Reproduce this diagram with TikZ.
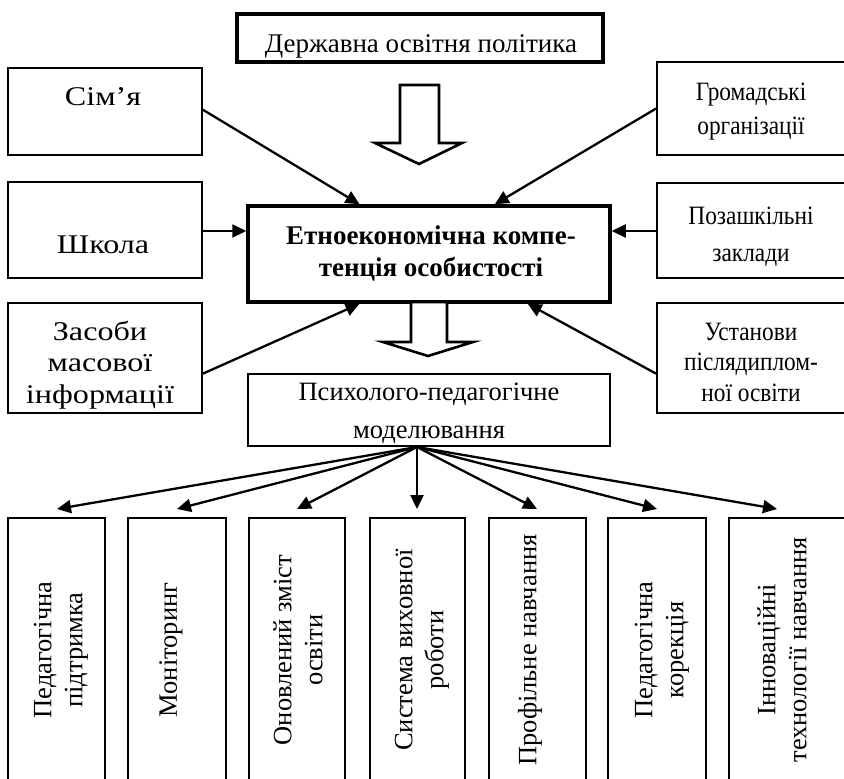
\documentclass[tikz,border=0pt]{standalone}
\usepackage{fontspec}
\setmainfont{Liberation Serif}
\newfontfamily\Lfont[FakeStretch=1.19]{Liberation Serif}
\newfontfamily\Rfont[FakeStretch=0.88]{Liberation Serif}
\usetikzlibrary{arrows.meta,calc}
\begin{document}
\begin{tikzpicture}[x=1pt,y=-1pt,
  box/.style={draw, line width=1.8pt, inner sep=0pt},
  thickbox/.style={draw, line width=3.5pt, inner sep=0pt},
  lbl/.style={align=center, inner sep=0pt, anchor=base},
  rlbl/.style={font=\fontsize{26.5}{31}\selectfont, align=center, inner sep=0pt, rotate=90},
  conn/.style={line width=2.3pt, -{Triangle[length=14pt,width=13pt]}},
  hollow/.style={line width=2.6pt, fill=white, line join=miter}]
\useasboundingbox (0,0) rectangle (844,779);
\clip (0,0) rectangle (844,779);

% boxes
\node[thickbox, minimum width=366pt, minimum height=48pt] (top) at (420,38) {};
\node[box, minimum width=194pt, minimum height=87pt] (sim) at (105,111.5) {};
\node[box, minimum width=193pt, minimum height=93pt] (grom) at (753.5,108.5) {};
\node[box, minimum width=194pt, minimum height=96pt] (shk) at (105,230) {};
\node[thickbox, minimum width=362pt, minimum height=96pt] (cen) at (429,254) {};
\node[box, minimum width=193pt, minimum height=95pt] (poz) at (753.5,230.5) {};
\node[box, minimum width=194pt, minimum height=110pt] (zas) at (105,358) {};
\node[box, minimum width=193pt, minimum height=110pt] (ust) at (753.5,358) {};
\node[box, minimum width=362pt, minimum height=72pt] (psy) at (429,410) {};

\foreach \a/\b in {8/105, 128/226, 249/345, 370/465, 489/586, 608/706, 729/860}{
  \draw[line width=1.8pt] (\a,790) -- (\a,518) -- (\b,518) -- (\b,790);
}
\coordinate (b1) at (57,518);
\coordinate (b2) at (177,518);
\coordinate (b3) at (297,518);
\coordinate (b4) at (417,518);
\coordinate (b5) at (537,518);
\coordinate (b6) at (657,518);
\coordinate (b7) at (777,518);

% texts (anchor=base gives the baseline of the last line)
\node[lbl, font=\fontsize{27}{32}\selectfont] (ttop) at (421,52) {Державна освітня політика};
\node[lbl, font=\fontsize{27}{32}\selectfont\Lfont] (tsim) at (103,105) {Сім’я};
\node[lbl, font=\fontsize{26.5}{34}\selectfont\Rfont] (tgrom) at (751,134) {Громадські\\організації};
\node[lbl, font=\fontsize{27}{32}\selectfont\Lfont] (tshk) at (103,253) {Школа};
\node[lbl, font=\fontsize{27}{32}\selectfont\bfseries] (tcen) at (431,276) {Етноекономічна компе-\\тенція особистості};
\node[lbl, font=\fontsize{26.5}{37}\selectfont\Rfont] (tpoz) at (751,261) {Позашкільні\\заклади};
\node[lbl, font=\fontsize{27}{31.5}\selectfont\Lfont] (tzas) at (100,403) {Засоби\\масової\\інформації};
\node[lbl, font=\fontsize{26.5}{30.5}\selectfont\Rfont] (tust) at (751,401) {Установи\\післядиплом-\\ної освіти};
\node[lbl, font=\fontsize{26.5}{38}\selectfont] (tpsy) at (429,438) {Психолого-педагогічне\\моделювання};

\node[rlbl] at (61,650) {Педагогічна\\підтримка};
\node[rlbl] at (171,650) {Моніторинг};
\node[rlbl] at (298,650) {Оновлений зміст\\освіти};
\node[rlbl] at (422,650) {Система виховної\\роботи};
\node[rlbl] at (530,650) {Профільне навчання};
\node[rlbl] at (662,650) {Педагогічна\\корекція};
\node[rlbl] at (782,650) {Інноваційні\\технології навчання};

% hollow arrows
\draw[hollow] (400,85) -- (439,85) -- (439,143) -- (462,143) -- (419,164) -- (375,143) -- (400,143) -- cycle;
\draw[hollow] (411,302) -- (447,302) -- (447,342) -- (473,342) -- (428,356) -- (383,342) -- (411,342) -- cycle;

% connectors
\draw[conn] ($(sim.north east)!0.48!(sim.south east)$) -- ($(cen.north west)!0.31!(cen.north east)$);
\draw[conn] ($(grom.north west)!0.5!(grom.south west)$) -- ($(cen.north west)!0.68!(cen.north east)$);
\draw[conn] (shk.east |- 0,231) -- (cen.west |- 0,231);
\draw[conn] (poz.west |- 0,231) -- (cen.east |- 0,231);
\draw[conn] ($(zas.north east)!0.64!(zas.south east)$) -- ($(cen.south west)!0.31!(cen.south east)$);
\draw[conn] ($(ust.north west)!0.64!(ust.south west)$) -- ($(cen.south west)!0.77!(cen.south east)$);

\coordinate (src) at (417,447);
\foreach \t in {b1,b2,b3,b4,b5,b6,b7}{
  \draw[conn] (src) -- ($(\t)+(0,-9)$);
}
\end{tikzpicture}
\end{document}
